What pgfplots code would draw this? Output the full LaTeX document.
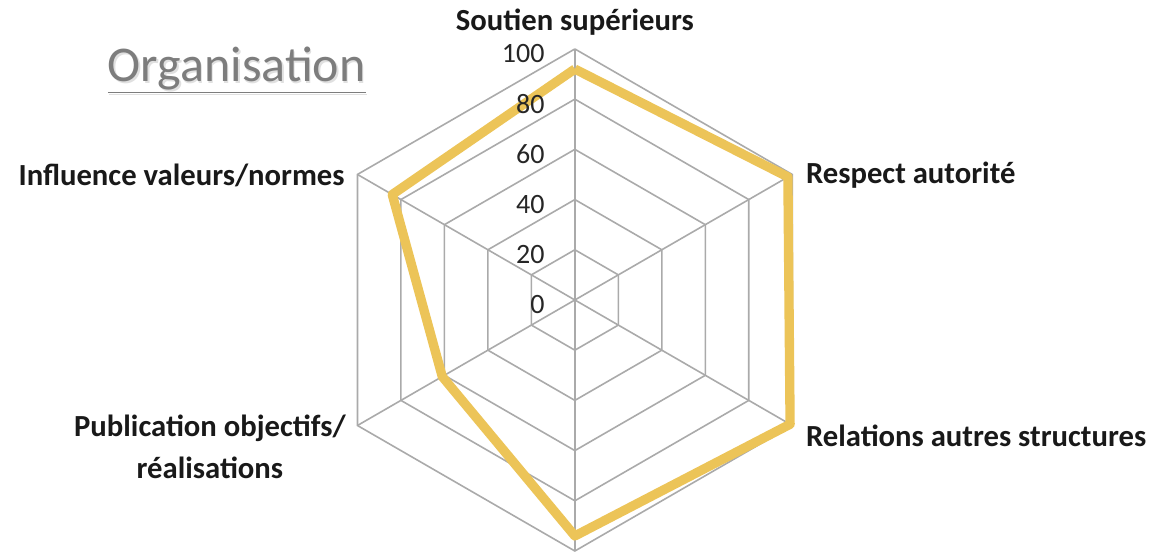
\documentclass[border=0pt]{standalone}
\usepackage{pgfplots}
\pgfplotsset{compat=1.18}
\usepackage{fontspec}
\setmainfont{Carlito}
\definecolor{gold}{RGB}{236,196,88}
\definecolor{gridc}{RGB}{170,170,170}
\definecolor{titc}{RGB}{125,125,125}
\begin{document}
\begin{tikzpicture}
\begin{axis}[
  x=1.8825pt, y=1.8825pt,
  xmin=-229, xmax=231.9, ymin=-101.6, ymax=119.5,
  hide axis, clip=false,
]
% grid rings
\foreach \r in {20,40,60,80,100} {
  \edef\temp{\noexpand\addplot[gridc, line width=1.2pt, data cs=polar] coordinates {(90,\r) (30,\r) (-30,\r) (-90,\r) (-150,\r) (150,\r) (90,\r)};}
  \temp
}
% spokes
\foreach \a in {90,30,-30,-90,-150,150} {
  \edef\temp{\noexpand\addplot[gridc, line width=1.2pt, data cs=polar] coordinates {(\a,0) (\a,100)};}
  \temp
}
% data
\addplot[gold, line width=7pt, line join=round, data cs=polar] coordinates {
  (90,92) (30,98) (-30,99) (-90,94) (-150,61) (150,84) (90,92)
};
% tick labels
\foreach \r in {0,20,40,60,80,100} {
  \edef\temp{\noexpand\node[anchor=east, font=\noexpand\fontsize{21}{24}\noexpand\selectfont, text=black!85, inner sep=0pt] at (axis cs:-12,\r-2) {\r};}
  \temp
}
% category labels
\node[font=\fontsize{23}{28}\selectfont\bfseries, text=black!90, inner sep=0pt] at (axis cs:0,110.8) {Soutien supérieurs};
\node[anchor=west, font=\fontsize{23}{28}\selectfont\bfseries, text=black!90, inner sep=0pt] at (axis cs:92,49.8) {Respect autorité};
\node[anchor=west, font=\fontsize{23}{28}\selectfont\bfseries, text=black!90, inner sep=0pt] at (axis cs:92,-54.2) {Relations autres structures};
\node[anchor=east, font=\fontsize{23}{28}\selectfont\bfseries, text=black!90, inner sep=0pt] at (axis cs:-91.6,49.8) {Influence valeurs/normes};
\node[anchor=east, align=center, font=\fontsize{23}{31.5}\selectfont\bfseries, text=black!90, inner sep=0pt] at (axis cs:-91.2,-58.6) {Publication objectifs/\\réalisations};
% title with shadow
\node[font=\fontsize{37.5}{40}\selectfont, text=black!12, inner sep=0pt] at ([xshift=1.2pt,yshift=-1.5pt]axis cs:-134.7,91.5) {\underline{Organisation}};
\node[font=\fontsize{37.5}{40}\selectfont, text=titc, inner sep=0pt] at (axis cs:-134.7,91.5) {\underline{Organisation}};
\coordinate (bl) at (axis cs:-229,-101.6);
\coordinate (tr) at (axis cs:231.9,119.5);
\end{axis}
\pgfresetboundingbox
\path[use as bounding box] (bl) rectangle (tr);
\end{tikzpicture}
\end{document}
